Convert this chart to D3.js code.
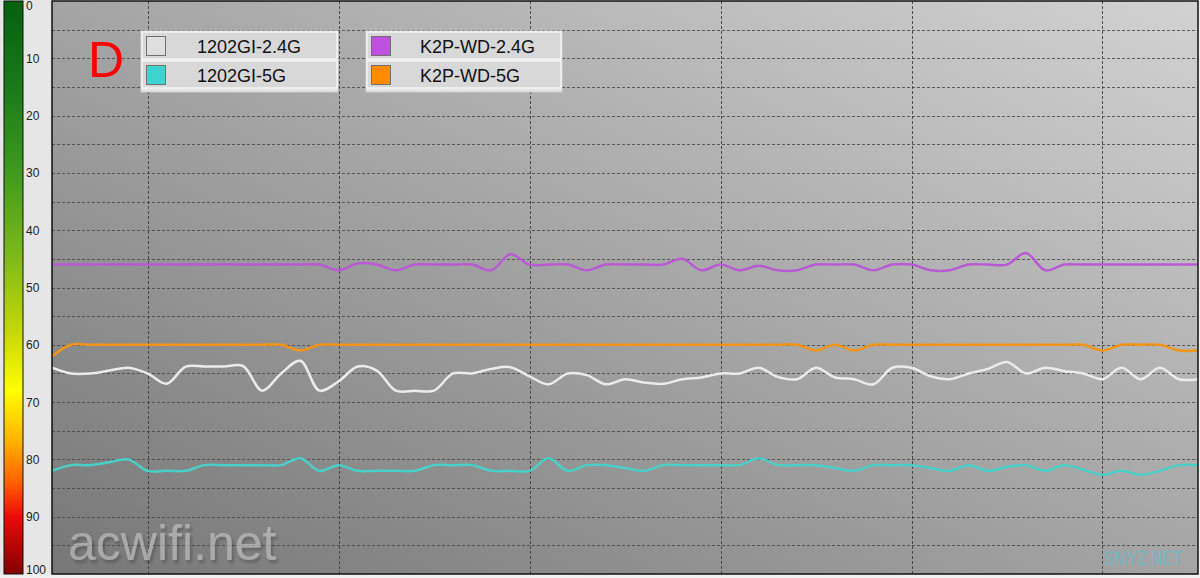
<!DOCTYPE html>
<html><head><meta charset="utf-8">
<script src="https://cdn.jsdelivr.net/npm/d3@7/dist/d3.min.js"></script>
<style>html,body{margin:0;padding:0;background:#f0f0f0;overflow:hidden}svg{display:block}</style>
</head><body><svg id="c" width="1200" height="578"></svg>
<script>
const seriesNames = ["1202GI-2.4G", "1202GI-5G", "K2P-WD-2.4G", "K2P-WD-5G"];
const seriesColors = ["#ebebeb", "#48d0c8", "#b95ad4", "#f39418"];
const swatchColors = ["#dedede", "#40d4d0", "#c050e0", "#ff8c00"];
const yTicks = [0, 10, 20, 30, 40, 50, 60, 70, 80, 90, 100];

const gi24 = [64, 65, 65, 64.5, 64, 65, 66.8, 63.8, 63.8, 63.8, 63.7, 68, 65, 62.8, 68, 66.4, 63.8, 64.5, 68, 68, 68, 65, 65, 64.2, 63.9, 65.5, 66.9, 65, 65.3, 66.9, 66, 66.6, 66.8, 66, 65.7, 65, 65, 64, 65.6, 66, 64, 65.7, 66, 66.9, 64, 64, 65.5, 66, 65, 64.2, 63, 65, 64, 64.6, 65, 66, 64, 66, 64, 66, 66];
const gi5 = [82, 81, 81, 80.5, 80, 82, 82, 82, 81, 81, 81, 81, 81, 79.8, 82, 81, 82, 82, 82, 82, 81, 81, 81, 82, 82, 82, 79.8, 82, 81, 81, 81.5, 82, 81, 81, 81, 81, 81, 79.8, 81, 81, 81, 81.5, 82, 81, 81, 81, 81.5, 82, 81, 82, 81.3, 81, 82, 81, 81.8, 82.7, 82, 82.7, 82, 81, 81];
const k2p24 = [46, 46, 46, 46, 46, 46, 46, 46, 46, 46, 46, 46, 46, 46, 46, 47, 45.8, 46, 47, 46, 46, 46, 46, 47, 44.2, 46, 46, 46, 47, 46, 46, 46, 46, 45, 47, 46, 47, 46.2, 47, 47, 46, 46, 46, 47, 46, 46, 47, 47, 46, 46, 46, 44, 47, 46, 46, 46, 46, 46, 46, 46, 46];
const k2p5 = [62, 60, 60, 60, 60, 60, 60, 60, 60, 60, 60, 60, 60, 61, 60, 60, 60, 60, 60, 60, 60, 60, 60, 60, 60, 60, 60, 60, 60, 60, 60, 60, 60, 60, 60, 60, 60, 60, 60, 60, 61, 60, 61, 60, 60, 60, 60, 60, 60, 60, 60, 60, 60, 60, 60, 61, 60, 60, 60, 61, 61];
const allSeries = [gi24, gi5, k2p24, k2p5];

const svg = d3.select("#c");
const W = 1200, H = 578;
const L = 52, R = 1198, T = 1, B = 574;
const x = d3.scaleLinear().domain([0, gi24.length - 1]).range([L, R]);
const y = d3.scaleLinear().domain([0, 100]).range([T, B]);

const defs = svg.append("defs");
const bg = defs.append("linearGradient").attr("id", "bg").attr("x1", 0).attr("y1", 1).attr("x2", 1).attr("y2", 0);
bg.append("stop").attr("offset", "0%").attr("stop-color", "#777777");
bg.append("stop").attr("offset", "100%").attr("stop-color", "#d2d2d2");
const cb = defs.append("linearGradient").attr("id", "cb").attr("x1", 0).attr("y1", 0).attr("x2", 0).attr("y2", 1);
[[0, "#056010"], [0.15, "#1a7a1a"], [0.3, "#3f9a1e"], [0.45, "#7fbb18"], [0.58, "#c8d808"], [0.68, "#ffff00"], [0.77, "#ffb000"], [0.84, "#ff6000"], [0.9, "#ee0a0a"], [1, "#820000"]]
  .forEach(s => cb.append("stop").attr("offset", s[0]).attr("stop-color", s[1]));
const shadow = defs.append("filter").attr("id", "shadow").attr("x", "-10%").attr("y", "-20%").attr("width", "130%").attr("height", "150%");
shadow.append("feGaussianBlur").attr("in", "SourceAlpha").attr("stdDeviation", 1.6).attr("result", "b");
shadow.append("feOffset").attr("in", "b").attr("dx", 2).attr("dy", 3).attr("result", "o");
shadow.append("feComponentTransfer").attr("in", "o").attr("result", "s")
  .append("feFuncA").attr("type", "linear").attr("slope", 0.45);
const mg = shadow.append("feMerge");
mg.append("feMergeNode").attr("in", "s");
mg.append("feMergeNode").attr("in", "SourceGraphic");

// page background
svg.append("rect").attr("width", W).attr("height", H).attr("fill", "#f0f0f0");
svg.append("rect").attr("x", 0).attr("y", 0).attr("width", L).attr("height", B).attr("fill", "#e6e6e6");

// colour bar
svg.append("rect").attr("x", 4).attr("y", y(0)).attr("width", 19).attr("height", y(100) - y(0))
  .attr("fill", "url(#cb)").attr("stroke", "#111").attr("stroke-width", 1);

// y tick labels
svg.append("g").selectAll("text").data(yTicks).join("text")
  .attr("x", 26).attr("y", d => Math.min(Math.max(y(d) + 4.5, 10), 574))
  .attr("font-family", "Liberation Sans, Arial, sans-serif").attr("font-size", 12).attr("fill", "#222")
  .text(d => d);

// plot background
svg.append("rect").attr("x", L).attr("y", T).attr("width", R - L).attr("height", B - T).attr("fill", "url(#bg)");

// grid
const hGrid = d3.range(5, 100, 5);
svg.append("g").selectAll("line").data(hGrid).join("line")
  .attr("x1", L).attr("x2", R).attr("y1", d => Math.round(y(d)) + 0.5).attr("y2", d => Math.round(y(d)) + 0.5)
  .attr("stroke", "#4a4a4a").attr("stroke-width", 1).attr("stroke-dasharray", "3,2").attr("opacity", 0.85);
const vGrid = d3.range(5, gi24.length, 10);
svg.append("g").selectAll("line").data(vGrid).join("line")
  .attr("x1", d => Math.round(x(d)) + 0.5).attr("x2", d => Math.round(x(d)) + 0.5).attr("y1", T).attr("y2", B)
  .attr("stroke", "#3a3a3a").attr("stroke-width", 1).attr("stroke-dasharray", "3,2").attr("opacity", 0.85);

// watermark acwifi.net
svg.append("text").attr("x", 68).attr("y", 560).attr("font-family", "Liberation Sans, Arial, sans-serif")
  .attr("font-size", 50).attr("fill", "rgba(215,215,215,0.5)").attr("filter", "url(#shadow)").text("acwifi.net");

// lines
const line = d3.line().x((d, i) => x(i)).y(d => y(d)).curve(d3.curveCatmullRom.alpha(0.5));
const clip = defs.append("clipPath").attr("id", "clip");
clip.append("rect").attr("x", L).attr("y", T).attr("width", R - L).attr("height", B - T);
const lg = svg.append("g").attr("clip-path", "url(#clip)");
[k2p24, k2p5, gi24, gi5].forEach(s => {
  const idx = allSeries.indexOf(s);
  lg.append("path").datum(s).attr("d", line).attr("fill", "none")
    .attr("stroke", seriesColors[idx]).attr("stroke-width", 2.5).attr("stroke-linejoin", "round");
});

// SMYZ watermark
svg.append("text").attr("transform", "translate(1104,565) scale(1,1.3)")
  .attr("font-family", "Liberation Sans, Arial, sans-serif").attr("font-size", 15.5)
  .attr("fill", "rgba(70,200,225,0.55)").text("SMYZ.NET");

// plot border
svg.append("rect").attr("x", L).attr("y", T).attr("width", R - L).attr("height", B - T)
  .attr("fill", "none").attr("stroke", "#111").attr("stroke-width", 1.5);

// D label
svg.append("text").attr("x", 88).attr("y", 77).attr("font-family", "Liberation Sans, Arial, sans-serif")
  .attr("font-size", 50).attr("fill", "#ff0000").text("D");

// legends
const legends = [
  {x: 141, w: 197, rows: [0, 1], tx: 197},
  {x: 366, w: 196, rows: [2, 3], tx: 420}
];
legends.forEach(lgd => {
  const g = svg.append("g");
  g.append("rect").attr("x", lgd.x).attr("y", 31).attr("width", lgd.w).attr("height", 61).attr("fill", "#e4e4e4").attr("stroke", "#cfcfcf");
  lgd.rows.forEach((si, r) => {
    const ry = 32 + r * 29;
    g.append("rect").attr("x", lgd.x + 1).attr("y", ry).attr("width", lgd.w - 2).attr("height", 27)
      .attr("fill", "#d8d8d8").attr("stroke", "#f4f4f4").attr("stroke-width", 1.5);
    g.append("rect").attr("x", lgd.x + 5.5).attr("y", ry + 4.5).attr("width", 19).attr("height", 19)
      .attr("fill", swatchColors[si]).attr("stroke", "#707070").attr("stroke-width", 1);
    g.append("text").attr("x", lgd.tx).attr("y", ry + 21).attr("font-family", "Liberation Sans, Arial, sans-serif")
      .attr("font-size", 18).attr("fill", "#111").text(seriesNames[si]);
  });
});
</script>
</body></html>
